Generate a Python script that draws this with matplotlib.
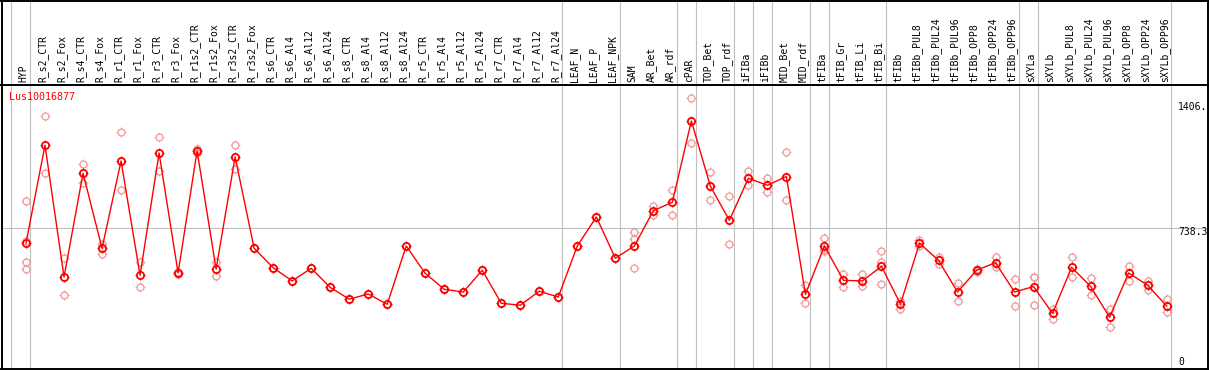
import matplotlib
matplotlib.use('Agg')
import matplotlib.pyplot as plt
import matplotlib.transforms as mtransforms
from matplotlib.path import Path

plt.rcParams['font.family'] = ['DejaVu Sans Mono']

gene = 'Lus10016877'

samples = ['HYP', 'R_s2_CTR', 'R_s2_Fox', 'R_s4_CTR', 'R_s4_Fox', 'R_r1_CTR', 'R_r1_Fox',
           'R_r3_CTR', 'R_r3_Fox', 'R_r1s2_CTR', 'R_r1s2_Fox', 'R_r3s2_CTR', 'R_r3s2_Fox',
           'R_s6_CTR', 'R_s6_Al4', 'R_s6_Al12', 'R_s6_Al24', 'R_s8_CTR', 'R_s8_Al4',
           'R_s8_Al12', 'R_s8_Al24', 'R_r5_CTR', 'R_r5_Al4', 'R_r5_Al12', 'R_r5_Al24',
           'R_r7_CTR', 'R_r7_Al4', 'R_r7_Al12', 'R_r7_Al24', 'LEAF_N', 'LEAF_P', 'LEAF_NPK',
           'SAM', 'AR_Bet', 'AR_rdf', 'cPAR', 'TOP_Bet', 'TOP_rdf', 'iFIBa', 'iFIBb',
           'MID_Bet', 'MID_rdf', 'tFIBa', 'tFIB_Gr', 'tFIB_Li', 'tFIB_Bi', 'tFIBb',
           'tFIBb_PUL8', 'tFIBb_PUL24', 'tFIBb_PUL96', 'tFIBb_OPP8', 'tFIBb_OPP24',
           'tFIBb_OPP96', 'sXYLa', 'sXYLb', 'sXYLb_PUL8', 'sXYLb_PUL24', 'sXYLb_PUL96',
           'sXYLb_OPP8', 'sXYLb_OPP24', 'sXYLb_OPP96']

means = [661, 1164, 486, 1020, 634, 1083, 495, 1124, 507, 1135, 527, 1104, 634,
         534, 466, 531, 433, 372, 399, 346, 646, 505, 423, 409, 521, 351, 341, 413, 383,
         646, 795, 583, 646, 827, 871, 1289, 953, 778, 994, 958, 1003, 397, 646, 469,
         466, 541, 347, 660, 572, 409, 521, 560, 409, 437, 299, 536, 438, 279, 507, 444, 337]

replicates = [[877, 673, 563, 526], [1315, 1020], [586, 392], [1068, 972], [656, 606],
              [1232, 932], [563, 433], [1205, 1033], [512, 502], [1147, 1123], [563, 490],
              [1164, 1044], [634], [534], [466], [531], [433], [372], [399], [346], [646],
              [505], [423], [409], [521], [351], [341], [413], [383], [646], [795], [583],
              [718, 683, 531], [853, 805], [934, 807], [1406, 1174], [1025, 881], [902, 655],
              [1032, 961], [994, 922], [1130, 881], [445, 351], [687, 629, 622], [500, 433],
              [502, 442], [619, 562, 449], [364, 322], [675, 647], [591, 555], [455, 361],
              [528, 514], [589, 539], [474, 335], [485, 485, 341], [323, 272], [589, 485],
              [483, 394], [322, 231], [543, 467], [467, 419], [373, 305]]

# group separators sit just right of these sample indices
separators = [-1, 0, 28, 31, 34, 35, 37, 38, 39, 41, 42, 45, 52, 53, 60]

ytick_vals = [1406, 738.3, 0]
ytick_labels = ['1406.', '738.3', '0']

# small ticks sticking out of the circle marker
ticks = Path([(0, 0.7), (0, 1), (0, -0.7), (0, -1), (0.7, 0), (1, 0), (-0.7, 0), (-1, 0)],
             [Path.MOVETO, Path.LINETO] * 4)

W, H = 1209, 370
fig = plt.figure(figsize=(W / 100, H / 100), dpi=100)
left, right = 1.5 / W, 1206 / W
ax = fig.add_axes([left, 1 / H, right, 284 / H])
axh = fig.add_axes([left, 285 / H, right, 84.5 / H], sharex=ax)

x = list(range(len(samples)))
ax.set_xlim(-1.289, 62.15)
ax.set_ylim(12.9, 1474)

for a in (ax, axh):
    for s in a.spines.values():
        s.set_linewidth(1.4)
        s.set_color('black')
    a.tick_params(left=False, bottom=False, labelleft=False, labelbottom=False)
    for sep in separators:
        a.axvline(sep + 0.22, color='#c0c0c0', lw=0.8, zorder=0)
axh.set_yticks([])
axh.set_ylim(0, 1)

ax.axhline(738.3, color='#c0c0c0', lw=0.8, zorder=0)

# replicate points
for i, reps in enumerate(replicates):
    xs = [i] * len(reps)
    ax.plot(xs, reps, linestyle='none', marker=ticks, ms=6.8, mew=0.7, color='#f0a0a0', zorder=2)
    ax.plot(xs, reps, linestyle='none', marker='o', ms=5, mew=1.0, mfc='none',
            color='#f0a0a0', zorder=2)

# mean line
ax.plot(x, means, color='red', lw=1.0, zorder=3)
ax.plot(x, means, linestyle='none', marker=ticks, ms=7, mew=0.8, color='red', zorder=4)
ax.plot(x, means, linestyle='none', marker='o', ms=5.2, mew=1.3, mfc='none',
        color='red', zorder=4)

trans = mtransforms.blended_transform_factory(axh.transData, axh.transAxes)
for i, name in enumerate(samples):
    axh.text(i - 0.12, 0.03, name, rotation=90, ha='center', va='bottom',
             fontsize=7, transform=trans)

fig.text(9.3 / W, 1 - 97 / H, gene, color='red', fontsize=7.2, va='center', ha='left')

offsets = [-6.5, -3.1, 7.0]
for v, lab, dy in zip(ytick_vals, ytick_labels, offsets):
    ax.annotate(lab, xy=(1, v), xycoords=('axes fraction', 'data'),
                xytext=(-21, dy), textcoords='offset points',
                va='center', ha='left', fontsize=7)

fig.savefig('out.png', dpi=100)
